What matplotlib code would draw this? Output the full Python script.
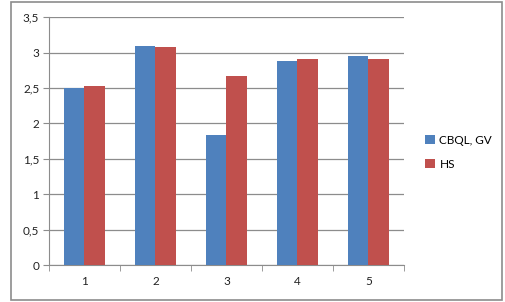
import matplotlib.pyplot as plt
import numpy as np
from matplotlib.patches import Rectangle
from matplotlib.ticker import FuncFormatter

# Дані
categories = ['1', '2', '3', '4', '5']
cbql_gv = [2.50, 3.10, 1.84, 2.88, 2.96]
hs = [2.53, 3.08, 2.67, 2.91, 2.91]
y_ticks = [0, 0.5, 1, 1.5, 2, 2.5, 3, 3.5]

plt.rcParams['font.family'] = ['Lato', 'DejaVu Sans']

fig = plt.figure(figsize=(5.05, 3.02), dpi=100)
ax = fig.add_axes([0.097, 0.1225, 0.703, 0.820])

# Рамка діаграми
fig.patches.append(Rectangle((0.021, 0.008), 0.973, 0.984, transform=fig.transFigure,
                             fill=False, edgecolor='#8c8c8c', linewidth=1.2))

x = np.arange(1, len(categories) + 1)
w = 0.29
ax.bar(x - w / 2, cbql_gv, w, color='#4f81bd', label='CBQL, GV', zorder=3)
ax.bar(x + w / 2, hs, w, color='#c0504d', label='HS', zorder=3)

ax.set_xlim(0.5, len(categories) + 0.5)
ax.set_ylim(0, 3.5)
ax.set_yticks(y_ticks)
ax.yaxis.set_major_formatter(FuncFormatter(lambda v, p: ('%g' % v).replace('.', ',')))
ax.set_xticks(x)
ax.set_xticklabels(categories)
ax.set_xticks(np.arange(0.5, len(categories) + 1), minor=True)
ax.tick_params(axis='x', which='major', length=0, pad=8, labelsize=8.5, colors='#222222')
ax.tick_params(axis='x', which='minor', length=4, color='#8c8c8c', direction='out')
ax.tick_params(axis='y', length=4, color='#8c8c8c', labelsize=8.5, labelcolor='#222222', pad=3)

ax.grid(axis='y', color='#8c8c8c', linewidth=0.9, zorder=0)
for s in ['top', 'right']:
    ax.spines[s].set_visible(False)
ax.spines['left'].set_color('#8c8c8c')
ax.spines['bottom'].set_color('#8c8c8c')

ax.legend(loc='center left', bbox_to_anchor=(1.03, 0.455), frameon=False, fontsize=8.5,
          handlelength=0.8, handleheight=0.8, handletextpad=0.4, labelspacing=1.1)

fig.savefig('out.png', dpi=100)
